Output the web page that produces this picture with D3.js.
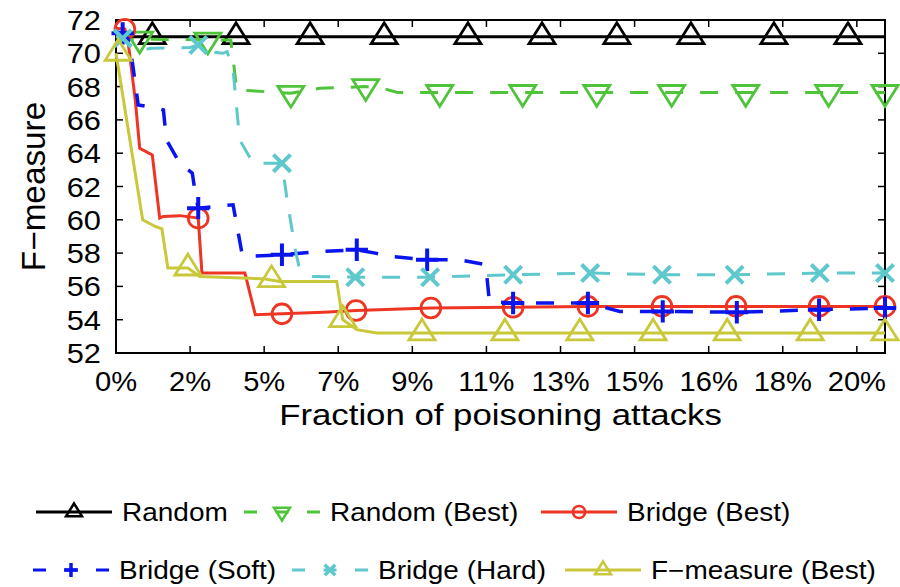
<!DOCTYPE html>
<html>
<head>
<meta charset="utf-8">
<script src="https://cdn.jsdelivr.net/npm/d3@7"></script>
<style>
  body { margin: 0; background: #fff; }
  text { font-family: "Liberation Sans", Arial, Helvetica, sans-serif; fill: #000; }
</style>
</head>
<body>
<svg id="chart" width="900" height="587"></svg>
<script>
// x runs in tick units (11 evenly spaced ticks), labels as printed
const xTickLabels = ["0%", "2%", "5%", "7%", "9%", "11%", "13%", "15%", "16%", "18%", "20%"];
const xMax = 10.38;
const yTicks = [52, 54, 56, 58, 60, 62, 64, 66, 68, 70, 72];

const randomLine = [[0, 71], [10.38, 71]];
const randomMarks = [[0.49, 71], [1.62, 71], [2.62, 71], [3.62, 71], [4.75, 71], [5.75, 71], [6.76, 71], [7.76, 71], [8.88, 71], [9.88, 71]];

const randomBestLine = [[0, 71], [0.15, 70.85], [1.55, 70.8], [1.63, 67.8], [2.36, 67.6], [2.75, 67.9], [3.37, 68.0], [3.6, 67.9], [3.8, 67.65], [10.38, 67.65]];
const randomBestMarks = [[0.32, 70.85], [1.24, 70.8], [2.36, 67.6], [3.37, 68.0], [4.37, 67.65], [5.49, 67.65], [6.49, 67.65], [7.5, 67.65], [8.5, 67.65], [9.62, 67.65], [10.38, 67.65]];

const bridgeBestLine = [[0, 71.5], [0.12, 71.45], [0.16, 70.8], [0.26, 67.2], [0.32, 64.3], [0.49, 63.9], [0.59, 60.1], [0.64, 60.2], [0.86, 60.25], [1.11, 60.1], [1.16, 56.8], [1.74, 56.8], [1.88, 54.3], [2.24, 54.35], [2.8, 54.45], [3.24, 54.55], [4.25, 54.7], [5.36, 54.75], [6.37, 54.8], [10.38, 54.8]];
const bridgeBestMarks = [[0.12, 71.45], [1.11, 60.1], [2.24, 54.35], [3.24, 54.55], [4.25, 54.7], [5.36, 54.75], [6.37, 54.8], [7.37, 54.8], [8.37, 54.8], [9.49, 54.8], [10.38, 54.8]];

const bridgeSoftLine = [[0, 71.3], [0.09, 71.2], [0.16, 70.9], [0.22, 69.5], [0.3, 66.9], [0.55, 66.7], [0.64, 66.6], [0.68, 64.8], [0.86, 63.4], [1.03, 62.8], [1.07, 61.6], [1.11, 60.7], [1.58, 60.9], [1.7, 58.0], [1.74, 57.8], [2.24, 57.9], [2.79, 58.1], [3.25, 58.2], [3.5, 58.0], [3.7, 57.8], [4.2, 57.6], [4.64, 57.6], [4.99, 57.3], [5.04, 55.1], [5.36, 55.0], [6.37, 55.0], [6.8, 54.5], [7.38, 54.5], [8.38, 54.45], [9.49, 54.6], [10.38, 54.7]];
const bridgeSoftMarks = [[0.09, 71.2], [1.11, 60.7], [2.24, 57.9], [3.25, 58.2], [4.2, 57.6], [5.36, 55.0], [6.37, 55.0], [7.38, 54.5], [8.38, 54.45], [9.49, 54.6], [10.38, 54.7]];

const bridgeHardLine = [[0, 71.0], [0.09, 70.9], [0.28, 70.2], [0.5, 70.3], [1.0, 70.35], [1.11, 70.5], [1.27, 70.1], [1.44, 70.0], [1.5, 70.1], [1.58, 69.0], [1.67, 64.8], [1.85, 63.4], [2.24, 63.4], [2.31, 61.2], [2.42, 58.2], [2.47, 57.2], [2.62, 56.6], [3.23, 56.55], [4.24, 56.55], [5.36, 56.7], [6.4, 56.8], [7.37, 56.7], [8.35, 56.7], [9.5, 56.8], [10.38, 56.8]];
const bridgeHardMarks = [[0.09, 70.9], [1.11, 70.5], [2.24, 63.4], [3.23, 56.55], [4.24, 56.55], [5.36, 56.7], [6.4, 56.8], [7.37, 56.7], [8.35, 56.7], [9.5, 56.8], [10.38, 56.8]];

const fmeasureLine = [[0, 70.0], [0.36, 60.0], [0.53, 59.6], [0.62, 59.45], [0.7, 57.1], [0.97, 57.1], [1.13, 56.6], [2.01, 56.45], [2.21, 56.3], [2.98, 56.3], [3.06, 54.0], [3.25, 53.4], [3.52, 53.2], [10.38, 53.2]];
const fmeasureMarks = [[0.03, 70.0], [0.97, 57.1], [2.1, 56.4], [3.06, 54.0], [4.13, 53.2], [5.25, 53.2], [6.26, 53.2], [7.25, 53.2], [8.25, 53.2], [9.37, 53.2], [10.38, 53.2]];

const series = [
    { name: "Random", line: randomLine, marks: randomMarks, color: "#000000", dash: null, sym: "triUp" },
    { name: "Random (Best)", line: randomBestLine, marks: randomBestMarks, color: "#4fc43a", dash: "18,17", sym: "triDown" },
    { name: "Bridge (Best)", line: bridgeBestLine, marks: bridgeBestMarks, color: "#ee3524", dash: null, sym: "circle" },
    { name: "Bridge (Soft)", line: bridgeSoftLine, marks: bridgeSoftMarks, color: "#0a14ee", dash: "18,17", sym: "plus" },
    { name: "Bridge (Hard)", line: bridgeHardLine, marks: bridgeHardMarks, color: "#5ec8cc", dash: "18,17", sym: "cross" },
    { name: "F\u2212measure (Best)", line: fmeasureLine, marks: fmeasureMarks, color: "#c8c83a", dash: null, sym: "triUp" }
];

const margin = { top: 20, right: 15, bottom: 234, left: 116 };
const width = 900 - margin.left - margin.right;
const height = 587 - margin.top - margin.bottom;

const svg = d3.select("#chart");
const g = svg.append("g").attr("transform", `translate(${margin.left},${margin.top})`);

const x = d3.scaleLinear().domain([0, xMax]).range([0, width]);
const y = d3.scaleLinear().domain([52, 72]).range([height, 0]);

// marker path, s = nominal size in px
function symbolPath(type, s) {
    if (type === "triUp" || type === "triDown") {
        const w = s, h = s * 0.8, k = type === "triUp" ? 1 : -1;
        return `M0,${-k * 2 * h / 3}L${w / 2},${k * h / 3}L${-w / 2},${k * h / 3}Z`;
    }
    if (type === "circle") {
        const r = s * 0.38;
        return `M${r},0A${r},${r} 0 1 1 ${-r},0A${r},${r} 0 1 1 ${r},0Z`;
    }
    if (type === "plus") {
        const a = s * 0.43;
        return `M${-a},0H${a}M0,${-a}V${a}`;
    }
    const a = s * 0.33;
    return `M${-a},${-a}L${a},${a}M${-a},${a}L${a},${-a}`;
}

// stretched text, like the original figure
function label(parent, tx, ty, str, size, anchor, sx) {
    return parent.append("text")
        .attr("transform", `translate(${tx},${ty}) scale(${sx},1)`)
        .attr("text-anchor", anchor)
        .attr("font-size", size)
        .text(str);
}

// axes box and inward ticks
g.append("rect").attr("width", width).attr("height", height)
    .attr("fill", "none").attr("stroke", "#000").attr("stroke-width", 2);

d3.range(xTickLabels.length).forEach(i => {
    const px = x(i);
    g.append("line").attr("x1", px).attr("x2", px).attr("y1", height).attr("y2", height - 7)
        .attr("stroke", "#000").attr("stroke-width", 1.5);
    g.append("line").attr("x1", px).attr("x2", px).attr("y1", 0).attr("y2", 7)
        .attr("stroke", "#000").attr("stroke-width", 1.5);
    label(g, px, height + 38, xTickLabels[i], 28, "middle", 1.04);
});

yTicks.forEach(v => {
    const py = y(v);
    g.append("line").attr("x1", 0).attr("x2", 7).attr("y1", py).attr("y2", py)
        .attr("stroke", "#000").attr("stroke-width", 1.5);
    g.append("line").attr("x1", width).attr("x2", width - 7).attr("y1", py).attr("y2", py)
        .attr("stroke", "#000").attr("stroke-width", 1.5);
    label(g, -15, py + 10, v, 28, "end", 1.1);
});

label(g, width / 2, height + 72, "Fraction of poisoning attacks", 30, "middle", 1.16);

svg.append("text")
    .attr("transform", `translate(45,${margin.top + height / 2}) rotate(-90) scale(1.11,1.1)`)
    .attr("text-anchor", "middle")
    .attr("font-size", 30)
    .text("F\u2212measure");

const lineGen = d3.line().x(d => x(d[0])).y(d => y(d[1]));

series.forEach(s => {
    g.append("path")
        .datum(s.line)
        .attr("d", lineGen)
        .attr("fill", "none")
        .attr("stroke", s.color)
        .attr("stroke-width", s.sym === "plus" ? 3.5 : 3)
        .attr("stroke-dasharray", s.dash);

    g.selectAll(null)
        .data(s.marks)
        .join("path")
        .attr("transform", d => `translate(${x(d[0])},${y(d[1])})`)
        .attr("d", symbolPath(s.sym, 26))
        .attr("fill", "none")
        .attr("stroke", s.color)
        .attr("stroke-width", s.sym === "plus" || s.sym === "cross" ? 4 : 2.8);
});

// legend
const legendPos = [
    { x: 36, y: 512 }, { x: 244, y: 512 }, { x: 541, y: 512 },
    { x: 33, y: 570 }, { x: 292, y: 570 }, { x: 565, y: 570 }
];
const sampleW = 76;

series.forEach((s, i) => {
    const p = legendPos[i];
    const lg = svg.append("g").attr("transform", `translate(${p.x},${p.y})`);
    lg.append("line")
        .attr("x1", 0).attr("x2", sampleW)
        .attr("stroke", s.color)
        .attr("stroke-width", 3)
        .attr("stroke-dasharray", s.dash ? "13,18.5" : null);
    lg.append("path")
        .attr("transform", `translate(${sampleW / 2},0)`)
        .attr("d", symbolPath(s.sym, 16))
        .attr("fill", "none")
        .attr("stroke", s.color)
        .attr("stroke-width", s.sym === "plus" || s.sym === "cross" ? 3.5 : 2.5);
    label(lg, sampleW + 10, 9, s.name, 25, "start", 1.12);
});
</script>
</body>
</html>
